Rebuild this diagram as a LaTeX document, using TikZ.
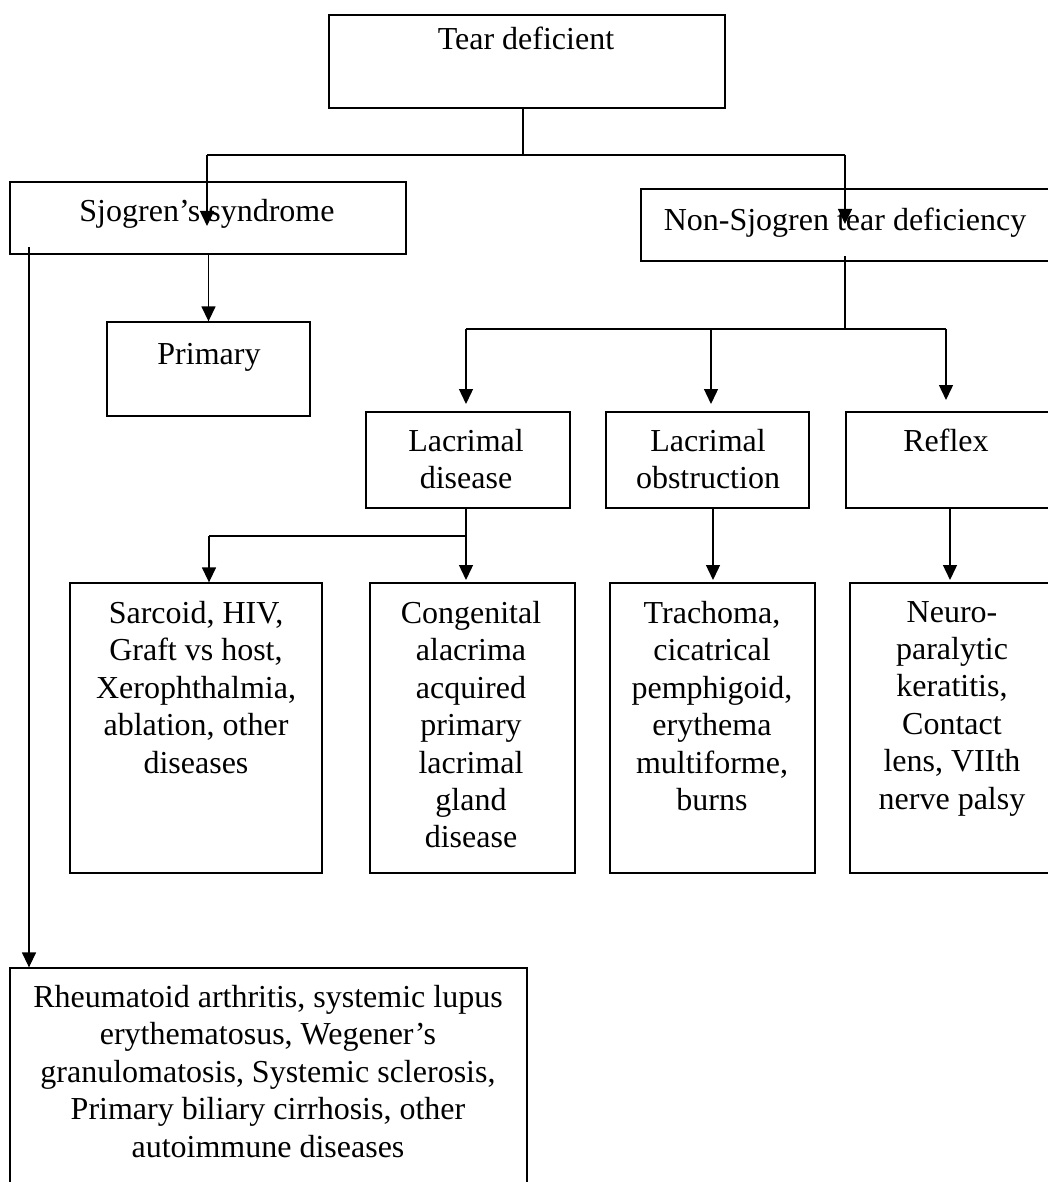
\documentclass[tikz,border=0pt]{standalone}
\usepackage{fontspec}
\setmainfont{Liberation Serif}
\usetikzlibrary{arrows.meta}
\tikzset{
  x=1pt, y=-1pt,
  box/.style={draw, line width=1.3pt, inner sep=0pt},
  txt/.style={inner sep=0pt, align=center, font=\fontsize{32}{37.4}\selectfont},
  conn/.style={line width=1.4pt},
  bar/.style={line width=2pt},
  arr/.style={line width=1.4pt, -{Triangle[length=15pt,width=14pt]}},
}
\begin{document}
\begin{tikzpicture}
\useasboundingbox (0,0) rectangle (1048,1182);
\clip (0,0) rectangle (1048,1182);
\fill[white] (0,0) rectangle (1048,1182);
% boxes
\node[box, minimum width=396pt, minimum height=93pt] (tear) at (527,61.5) {};
\node[box, minimum width=396pt, minimum height=72pt] (sjo) at (208,218) {};
\node[box, minimum width=419pt, minimum height=72pt] (non) at (850.5,225) {};
\node[box, minimum width=203pt, minimum height=94pt] (prim) at (208.5,369) {};
\node[box, minimum width=204pt, minimum height=96pt] (lacd) at (468,460) {};
\node[box, minimum width=203pt, minimum height=96pt] (laco) at (707.5,460) {};
\node[box, minimum width=214pt, minimum height=96pt] (refl) at (953,460) {};
\node[box, minimum width=252pt, minimum height=290pt] (b1) at (196,728) {};
\node[box, minimum width=205pt, minimum height=290pt] (b2) at (472.5,728) {};
\node[box, minimum width=205pt, minimum height=290pt] (b3) at (712.5,728) {};
\node[box, minimum width=210pt, minimum height=290pt] (b4) at (955,728) {};
\node[box, minimum width=517pt, minimum height=240pt] (rheu) at (268.5,1088) {};
% texts
\node[txt, anchor=base] (tear-t) at (526,50) {Tear deficient};
\node[txt, anchor=base] (sjo-t) at (207,222) {Sjogren’s syndrome};
\node[txt, anchor=base] (non-t) at (845,230) {Non-Sjogren tear deficiency};
\node[txt, anchor=base] (prim-t) at (209,364) {Primary};
\node[txt, anchor=north] (lacd-t) at (466,429) {Lacrimal\\disease};
\node[txt, anchor=north] (laco-t) at (708,429) {Lacrimal\\obstruction};
\node[txt, anchor=base] (refl-t) at (946,451) {Reflex};
\node[txt, anchor=north] (b1-t) at (196,601) {Sarcoid, HIV,\\Graft vs host,\\Xerophthalmia,\\ablation, other\\diseases};
\node[txt, anchor=north] (b2-t) at (471,601) {Congenital\\alacrima\\acquired\\primary\\lacrimal\\gland\\disease};
\node[txt, anchor=north] (b3-t) at (712,601) {Trachoma,\\cicatrical\\pemphigoid,\\erythema\\multiforme,\\burns};
\node[txt, anchor=north] (b4-t) at (952,601) {Neuro-\\paralytic\\keratitis,\\Contact\\lens, VIIth\\nerve palsy};
\node[txt, anchor=north] (rheu-t) at (268,985) {Rheumatoid arthritis, systemic lupus\\erythematosus, Wegener’s\\granulomatosis, Systemic sclerosis,\\Primary biliary cirrhosis, other\\autoimmune diseases};
% connector points
\coordinate (tj) at (523,155);
\coordinate (jl) at (207,155);
\coordinate (jr) at (845,155);
\coordinate (sjoin) at (207,226);
\coordinate (nonin) at (845,224);
\coordinate (sl) at (29,247);
\coordinate (ns) at (845,256);
\coordinate (nj) at (845,329);
\coordinate (hl) at (466,329);
\coordinate (hm) at (711,329);
\coordinate (hr) at (946,329);
\coordinate (a1) at (466,404);
\coordinate (a2) at (711,404);
\coordinate (a3) at (946,400);
\coordinate (ld) at (466,536);
\coordinate (lb) at (209,536);
\coordinate (t2) at (466,580);
\coordinate (t3) at (713,580);
\coordinate (t4) at (950,580);
% connectors
\draw[conn] (tear.south -| tj) -- (tj);
\draw[bar] (jl) -- (jr);
\draw[arr] (jl) -- (sjoin);
\draw[arr] (jr) -- (nonin);
\draw[arr] (prim.north |- sjo.south) -- (prim.north);
\draw[arr] (sl) -- (sl |- rheu.north);
\draw[conn] (ns) -- (nj);
\draw[bar] (hl) -- (hr);
\draw[arr] (hl) -- (a1);
\draw[arr] (hm) -- (a2);
\draw[arr] (hr) -- (a3);
\draw[arr] (lacd.south -| t2) -- (t2);
\draw[conn] (ld) -- (lb);
\draw[arr] (lb) -- (lb |- b1.north);
\draw[arr] (laco.south -| t3) -- (t3);
\draw[arr] (refl.south -| t4) -- (t4);
\end{tikzpicture}
\end{document}
